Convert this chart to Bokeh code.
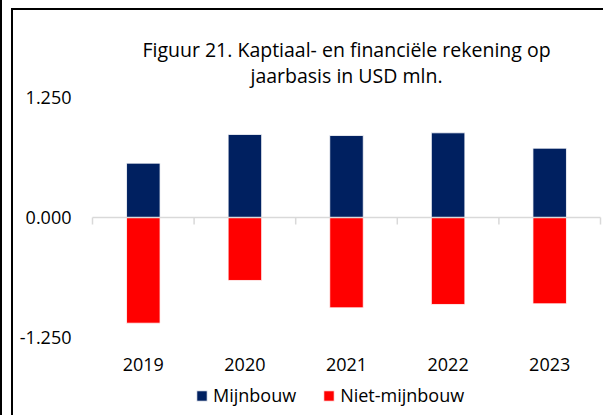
from bokeh.plotting import figure
from bokeh.models import Range1d, Legend, LegendItem, InlineStyleSheet
from bokeh.core.properties import value
from bokeh.embed import file_html
from bokeh.resources import INLINE

# ---- data ----
years = ["2019", "2020", "2021", "2022", "2023"]
mijnbouw = [566, 865, 854, 882, 722]
niet_mijnbouw = [-1101, -656, -941, -906, -899]
y_ticks = [-1250, 0, 1250]
y_tick_labels = ["-1.250", "0.000", "1.250"]
title_lines = ["Figuur 21. Kaptiaal- en financiële rekening op",
               "jaarbasis in USD mln."]

FONT = "Open Sans"
BLUE = "#002060"
RED = "#FF0000"

# ---- layout (pixels) ----
W, H = 603, 415
AXIS_LEFT_PX, AXIS_RIGHT_PX = 92, 600      # extent of the category axis
TOP_TICK_PX, BOTTOM_TICK_PX = 97, 337      # rows of the 1.250 / -1.250 ticks
n = len(years)
cat_px = (AXIS_RIGHT_PX - AXIS_LEFT_PX) / n
Y_MIN_TICK, Y_MAX_TICK = y_ticks[0], y_ticks[-1]
px_per_unit = (BOTTOM_TICK_PX - TOP_TICK_PX) / (Y_MAX_TICK - Y_MIN_TICK)

x_lo = -0.5 - AXIS_LEFT_PX / cat_px
x_hi = n - 0.5 + (W - AXIS_RIGHT_PX) / cat_px
y_lo = Y_MIN_TICK - (H - BOTTOM_TICK_PX) / px_per_unit
y_hi = Y_MAX_TICK + TOP_TICK_PX / px_per_unit

xs = list(range(n))
bounds = [i - 0.5 for i in range(n + 1)]

p = figure(width=W, height=H, output_backend="svg", toolbar_location=None,
           title=None, x_range=Range1d(x_lo, x_hi), y_range=Range1d(y_lo, y_hi),
           min_border_left=0, min_border_right=0,
           min_border_top=0, min_border_bottom=0)

p.outline_line_color = None
p.xgrid.visible = False
p.ygrid.visible = False
p.xaxis.visible = False
p.yaxis.visible = False
p.background_fill_color = "white"
p.border_fill_color = "white"

r_blue = p.vbar(x=xs, top=mijnbouw, bottom=0, width=0.33, fill_color=BLUE,
                line_color="white", line_width=0.8)
r_red = p.vbar(x=xs, top=niet_mijnbouw, bottom=0, width=0.33, fill_color=RED,
               line_color="white", line_width=0.8)

# zero axis line with category boundary ticks
tick_len = 7 / px_per_unit
p.segment(x0=[bounds[0]], x1=[bounds[-1]], y0=[0], y1=[0],
          line_color="#d9d9d9", line_width=1.5)
p.segment(x0=bounds, x1=bounds, y0=[0] * len(bounds), y1=[-tick_len] * len(bounds),
          line_color="#d9d9d9", line_width=1.5)

# value axis labels
p.text(x=[bounds[0]] * len(y_ticks), y=y_ticks, text=y_tick_labels, x_offset=-21,
       text_align="right", text_baseline="middle", text_font=value(FONT),
       text_font_size="18px", text_color="black")

# category labels under the plot
p.text(x=xs, y=[Y_MIN_TICK] * n, text=years, y_offset=27,
       text_align="center", text_baseline="middle", text_font=value(FONT),
       text_font_size="18px", text_color="black")

# title: two centred lines above the top tick
x_mid = (n - 1) / 2
p.text(x=[x_mid] * len(title_lines), y=[Y_MAX_TICK] * len(title_lines),
       text=title_lines, y_offset=[-48, -22], text_align="center",
       text_baseline="alphabetic", text_font=value(FONT),
       text_font_size="19.5px", text_color="black")

# legend
legend = Legend(items=[LegendItem(label="Mijnbouw", renderers=[r_blue]),
                       LegendItem(label="Niet-mijnbouw", renderers=[r_red])],
                orientation="horizontal", location=(195, 8),
                glyph_width=13, glyph_height=13, label_standoff=5, spacing=26,
                padding=0, margin=0, border_line_color=None,
                background_fill_alpha=0, label_text_font=FONT,
                label_text_font_size="18px", label_text_color="black")
p.add_layout(legend, "center")

# chart border lines (outer left line + inner left/top frame)
p.stylesheets = [InlineStyleSheet(css="""
:host::before { content: ""; position: absolute; left: 0px; top: 0px; bottom: 0px;
  width: 0px; border-left: 2px solid black; pointer-events: none; z-index: 10; }
:host::after { content: ""; position: absolute; left: 11px; top: 8px; right: 0px;
  bottom: 0px; border-left: 2px solid black; border-top: 2px solid black;
  pointer-events: none; z-index: 10; }
""")]

open("out.html", "w").write(file_html(p, INLINE))
